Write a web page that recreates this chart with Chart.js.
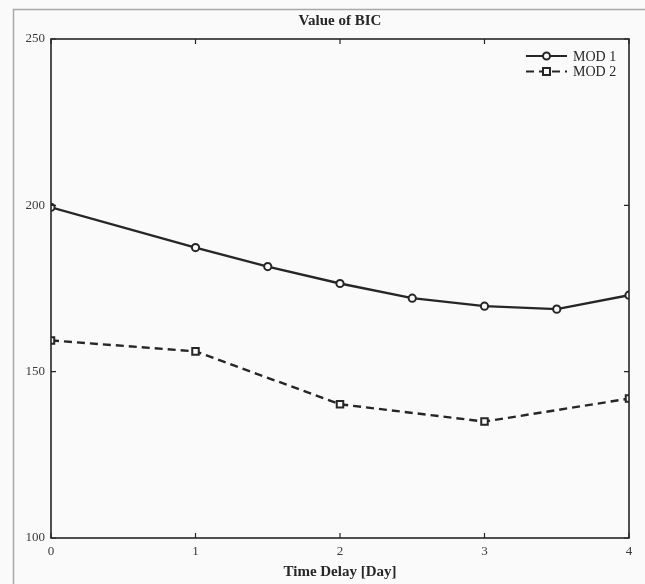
<!DOCTYPE html>
<html>
<head>
<meta charset="utf-8">
<script src="https://cdn.jsdelivr.net/npm/chart.js@4.4.0/dist/chart.umd.min.js"></script>
<style>
    html, body { margin: 0; padding: 0; background: #fafafa; }
    #wrap { width: 645px; height: 584px; }
</style>
</head>
<body>
<div id="wrap"><canvas id="bicChart" width="645" height="584"></canvas></div>
<script>
// values
const mod1Days = [0, 1, 1.5, 2, 2.5, 3, 3.5, 4];
const mod1Bic = [199.4, 187.3, 181.6, 176.5, 172.1, 169.7, 168.8, 173.0];
const mod2Days = [0, 1, 2, 3, 4];
const mod2Bic = [159.4, 156.1, 140.2, 135.0, 141.9];
const xTicks = [0, 1, 2, 3, 4];
const yTicks = [100, 150, 200, 250];
const seriesNames = ['MOD 1', 'MOD 2'];

const ink = '#262626';
const serif = '"Liberation Serif", "DejaVu Serif", serif';

function toPoints(xs, ys) {
    return xs.map((x, i) => ({ x: x, y: ys[i] }));
}

// background, outer figure frame, axes box with inward ticks, legend
const framePlugin = {
    id: 'frame',
    beforeDraw(chart) {
        const ctx = chart.ctx;
        ctx.save();
        ctx.fillStyle = '#fafafa';
        ctx.fillRect(0, 0, chart.width, chart.height);
        ctx.strokeStyle = '#a8a8a8';
        ctx.lineWidth = 1.5;
        ctx.beginPath();
        ctx.moveTo(13.5, chart.height);
        ctx.lineTo(13.5, 9.5);
        ctx.lineTo(chart.width, 9.5);
        ctx.stroke();
        ctx.restore();
    },
    afterDatasetsDraw(chart) {
        const ctx = chart.ctx;
        const a = chart.chartArea;
        const xs = chart.scales.x, ys = chart.scales.y;
        ctx.save();
        ctx.strokeStyle = ink;
        ctx.lineWidth = 1.6;
        ctx.strokeRect(a.left, a.top, a.right - a.left, a.bottom - a.top);
        ctx.lineWidth = 1.2;
        ctx.beginPath();
        xTicks.forEach(v => {
            const px = xs.getPixelForValue(v);
            ctx.moveTo(px, a.bottom); ctx.lineTo(px, a.bottom - 5);
            ctx.moveTo(px, a.top); ctx.lineTo(px, a.top + 5);
        });
        yTicks.forEach(v => {
            const py = ys.getPixelForValue(v);
            ctx.moveTo(a.left, py); ctx.lineTo(a.left + 5, py);
            ctx.moveTo(a.right, py); ctx.lineTo(a.right - 5, py);
        });
        ctx.stroke();

        // legend
        ctx.font = '14px ' + serif;
        ctx.textBaseline = 'middle';
        ctx.fillStyle = ink;
        chart.data.datasets.forEach((ds, i) => {
            const y = a.top + 17 + i * 15.5;
            const x0 = a.right - 103, x1 = a.right - 62;
            ctx.strokeStyle = ink;
            ctx.lineWidth = 2.2;
            ctx.setLineDash(ds.borderDash || []);
            ctx.beginPath();
            ctx.moveTo(x0, y); ctx.lineTo(x1, y);
            ctx.stroke();
            ctx.setLineDash([]);
            const cx = (x0 + x1) / 2;
            ctx.fillStyle = '#fafafa';
            ctx.lineWidth = ds.pointBorderWidth;
            ctx.beginPath();
            if (ds.pointStyle === 'rect') {
                ctx.rect(cx - 3.5, y - 3.5, 7, 7);
            } else {
                ctx.arc(cx, y, 3.5, 0, Math.PI * 2);
            }
            ctx.fill(); ctx.stroke();
            ctx.fillStyle = ink;
            ctx.textAlign = 'left';
            ctx.fillText(ds.label, x1 + 6, y + 1);
        });
        ctx.restore();
    }
};

new Chart(document.getElementById('bicChart'), {
    type: 'line',
    data: {
        datasets: [
            {
                label: seriesNames[0],
                data: toPoints(mod1Days, mod1Bic),
                borderColor: ink,
                borderWidth: 2.4,
                pointStyle: 'circle',
                pointRadius: 3.6,
                pointBorderWidth: 2,
                pointBorderColor: ink,
                pointBackgroundColor: '#fafafa',
                tension: 0
            },
            {
                label: seriesNames[1],
                data: toPoints(mod2Days, mod2Bic),
                borderColor: ink,
                borderWidth: 2.4,
                borderDash: [8, 5],
                pointStyle: 'rect',
                pointRadius: 4.6,
                pointBorderWidth: 2,
                pointBorderColor: ink,
                pointBackgroundColor: '#fafafa',
                tension: 0
            }
        ]
    },
    options: {
        responsive: false,
        animation: false,
        layout: { padding: { left: 0, right: 16, top: 0, bottom: 0 } },
        plugins: {
            legend: { display: false },
            tooltip: { enabled: false },
            title: {
                display: true,
                text: 'Value of BIC',
                fullSize: false,
                color: ink,
                font: { family: serif, size: 15, weight: 'bold', lineHeight: 1.2 },
                padding: { top: 12, bottom: 9 }
            }
        },
        scales: {
            x: {
                type: 'linear',
                min: 0,
                max: 4,
                afterBuildTicks(scale) {
                    scale.ticks = xTicks.map(v => ({ value: v }));
                },
                afterFit(scale) { scale.height = 46; },
                grid: { display: false, drawTicks: false },
                border: { display: false },
                ticks: {
                    color: '#3a3a3a',
                    padding: 6,
                    font: { family: serif, size: 13 }
                },
                title: {
                    display: true,
                    text: 'Time Delay [Day]',
                    color: ink,
                    font: { family: serif, size: 15, weight: 'bold', lineHeight: 1.2 },
                    padding: { top: 0, bottom: 3 }
                }
            },
            y: {
                type: 'linear',
                min: 100,
                max: 250,
                afterBuildTicks(scale) {
                    scale.ticks = yTicks.map(v => ({ value: v }));
                },
                afterFit(scale) { scale.width = 51; },
                grid: { display: false, drawTicks: false },
                border: { display: false },
                ticks: {
                    color: '#3a3a3a',
                    padding: 6,
                    font: { family: serif, size: 13 }
                }
            }
        }
    },
    plugins: [framePlugin]
});
</script>
</body>
</html>
